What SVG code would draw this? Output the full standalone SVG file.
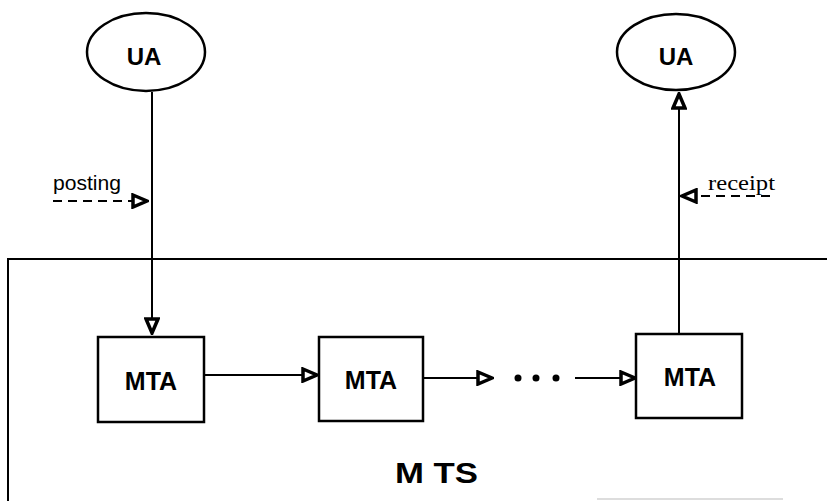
<svg xmlns="http://www.w3.org/2000/svg" width="827" height="501" viewBox="0 0 827 501">
<style>
.ln{stroke:#000;stroke-width:2;fill:none}
.dash{stroke:#000;stroke-width:2;fill:none;stroke-dasharray:9,6}
.node{fill:#fff;stroke:#000;stroke-width:2.5}
.lbl{font-family:"Liberation Sans",Arial,sans-serif;font-weight:bold;fill:#000}
.sm{font-family:"Liberation Sans",Arial,sans-serif;fill:#000}
</style>
<defs>
<marker id="tri" viewBox="0 0 18 16" refX="17" refY="8" markerWidth="18" markerHeight="16" markerUnits="userSpaceOnUse" orient="auto">
<path d="M2,2 L16,8 L2,14 Z" fill="#fff" stroke="#000" stroke-width="3.5" stroke-linejoin="miter"/>
</marker>
</defs>
<rect width="827" height="501" fill="#fff"/>
<g id="mts">
<path class="ln" d="M8,501 L8,259 L827,259"/>
<line x1="597" y1="499" x2="783" y2="499" stroke="#bbb" stroke-width="1"/>
<text class="lbl" x="395" y="483" font-size="30" textLength="83" lengthAdjust="spacingAndGlyphs">M TS</text>
</g>
<g id="connectors">
<line class="ln" x1="152" y1="92" x2="152" y2="334" marker-end="url(#tri)"/>
<line class="ln" x1="679" y1="334" x2="679" y2="93" marker-end="url(#tri)"/>
<line class="ln" x1="204" y1="375" x2="318" y2="375" marker-end="url(#tri)"/>
<line class="ln" x1="423" y1="378" x2="493" y2="378" marker-end="url(#tri)"/>
<line class="ln" x1="575" y1="378" x2="636" y2="378" marker-end="url(#tri)"/>
<circle cx="518" cy="378" r="3.5" fill="#000"/>
<circle cx="536" cy="378" r="3.5" fill="#000"/>
<circle cx="556" cy="378" r="3.5" fill="#000"/>
<g id="posting">
<line class="dash" x1="53" y1="201" x2="148" y2="201" marker-end="url(#tri)"/>
<text class="sm" x="53" y="190" font-size="20" textLength="68" lengthAdjust="spacingAndGlyphs">posting</text>
</g>
<g id="receipt">
<line class="dash" x1="770" y1="196" x2="681" y2="196" marker-end="url(#tri)"/>
<text x="708" y="190" font-family="'Liberation Serif','Times New Roman',serif" font-size="22" textLength="67" lengthAdjust="spacingAndGlyphs">receipt</text>
</g>
</g>
<g id="ua1">
<ellipse class="node" cx="146" cy="52" rx="59" ry="39"/>
<text class="lbl" x="144" y="65" font-size="24" text-anchor="middle">UA</text>
</g>
<g id="ua2">
<ellipse class="node" cx="676" cy="52" rx="59" ry="38"/>
<text class="lbl" x="676" y="65" font-size="24" text-anchor="middle">UA</text>
</g>
<g id="mta1">
<rect class="node" x="98" y="337" width="106" height="85"/>
<text class="lbl" x="151" y="390" font-size="25" text-anchor="middle">MTA</text>
</g>
<g id="mta2">
<rect class="node" x="319" y="337" width="104" height="84"/>
<text class="lbl" x="371" y="389" font-size="25" text-anchor="middle">MTA</text>
</g>
<g id="mta3">
<rect class="node" x="636" y="334" width="106" height="84"/>
<text class="lbl" x="690" y="386" font-size="25" text-anchor="middle">MTA</text>
</g>
</svg>
